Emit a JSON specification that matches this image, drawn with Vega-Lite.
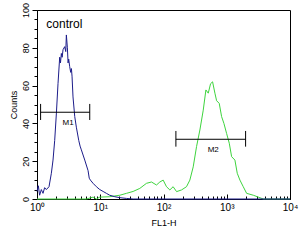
{
  "$schema": "https://vega.github.io/schema/vega-lite/v6.json",
  "width": 253,
  "height": 189,
  "autosize": {"type": "none"},
  "padding": {"left": 37, "top": 10, "right": 16, "bottom": 51},
  "background": "white",
  "config": {
    "font": "Liberation Sans",
    "view": {"stroke": "black", "strokeWidth": 1},
    "axis": {"domainColor": "black", "tickColor": "black", "labelColor": "black", "titleColor": "black", "grid": false, "labelFontSize": 9, "titleFontSize": 9, "titleFontWeight": "normal", "labelFont": "Liberation Sans", "titleFont": "Liberation Sans"}
  },
  "resolve": {"axis": {"y": "independent"}},
  "datasets": {
    "blue": [
      {"v": 1.0, "c": 4}, {"v": 1.05, "c": 7}, {"v": 1.1, "c": 2}, {"v": 1.17, "c": 5}, {"v": 1.245, "c": 3}, {"v": 1.32, "c": 6}, {"v": 1.405, "c": 5}, {"v": 1.549, "c": 6.5},
      {"v": 1.686, "c": 13.6}, {"v": 1.792, "c": 20.6}, {"v": 1.904, "c": 31}, {"v": 2.023, "c": 45},
      {"v": 2.149, "c": 61}, {"v": 2.284, "c": 75}, {"v": 2.35, "c": 72}, {"v": 2.427, "c": 77}, {"v": 2.5, "c": 75}, {"v": 2.579, "c": 79},
      {"v": 2.74, "c": 80.6}, {"v": 2.85, "c": 78}, {"v": 2.912, "c": 86.8}, {"v": 3.022, "c": 80}, {"v": 3.1, "c": 72}, {"v": 3.17, "c": 74},
      {"v": 3.29, "c": 70}, {"v": 3.41, "c": 67}, {"v": 3.5, "c": 69}, {"v": 3.58, "c": 65}, {"v": 3.71, "c": 54},
      {"v": 3.95, "c": 43.6}, {"v": 4.19, "c": 38}, {"v": 4.57, "c": 31}, {"v": 4.8, "c": 28}, {"v": 5.03, "c": 26},
      {"v": 5.69, "c": 20.6}, {"v": 6.42, "c": 15}, {"v": 6.7, "c": 11}, {"v": 6.99, "c": 10}, {"v": 7.7, "c": 8.3},
      {"v": 8.69, "c": 6.5}, {"v": 9.82, "c": 5}, {"v": 11.1, "c": 4}, {"v": 12.5, "c": 3},
      {"v": 14.1, "c": 2}, {"v": 17.0, "c": 1.2}, {"v": 20.4, "c": 0.7}, {"v": 26.0, "c": 0.3},
      {"v": 33.1, "c": 0}, {"v": 10000, "c": 0}
    ],
    "green": [
      {"v": 1.0, "c": 0}, {"v": 6.04, "c": 0}, {"v": 7.7, "c": 1}, {"v": 8.69, "c": 0}, {"v": 9.82, "c": 1},
      {"v": 14.1, "c": 1.2}, {"v": 20.4, "c": 2}, {"v": 26.0, "c": 3}, {"v": 33.1, "c": 4},
      {"v": 42.2, "c": 5.6}, {"v": 53.8, "c": 8.3}, {"v": 64.6, "c": 9}, {"v": 77.5, "c": 7.4},
      {"v": 87.5, "c": 9}, {"v": 98.8, "c": 10}, {"v": 111.5, "c": 6.5}, {"v": 126, "c": 4.8},
      {"v": 142, "c": 6.5}, {"v": 161, "c": 3.9}, {"v": 193, "c": 4.8}, {"v": 231, "c": 6.5},
      {"v": 261, "c": 10}, {"v": 295, "c": 17}, {"v": 333, "c": 27.7}, {"v": 376, "c": 36.5},
      {"v": 425, "c": 47}, {"v": 468, "c": 57.7}, {"v": 510, "c": 56}, {"v": 555, "c": 61},
      {"v": 597, "c": 62}, {"v": 650, "c": 56}, {"v": 691, "c": 52}, {"v": 761, "c": 50.6},
      {"v": 829, "c": 43.6}, {"v": 902, "c": 40}, {"v": 994, "c": 34.7}, {"v": 1096, "c": 29.5},
      {"v": 1194, "c": 22.4}, {"v": 1346, "c": 20.6}, {"v": 1466, "c": 13.6}, {"v": 1616, "c": 10},
      {"v": 1824, "c": 6.5}, {"v": 2061, "c": 3}, {"v": 2630, "c": 2}, {"v": 3155, "c": 1},
      {"v": 3784, "c": 0}, {"v": 10000, "c": 0}
    ],
    "markers": [
      {"name": "M1", "x1": 1.14, "x2": 6.82, "y": 45.9, "ylo": 41.8, "yhi": 50.3, "lx": 3.1, "ly": 40},
      {"name": "M2", "x1": 157, "x2": 1986, "y": 31.6, "ylo": 27.7, "yhi": 36, "lx": 611, "ly": 26}
    ],
    "label": [{"t": "control", "x": 1.405, "y": 90.3}]
  },
  "layer": [
    {
      "data": {"name": "green"},
      "mark": {"type": "line", "color": "#3ed43e", "strokeWidth": 1},
      "encoding": {
        "x": {"field": "v", "type": "quantitative", "scale": {"type": "log", "domain": [1, 10000], "nice": false},
          "axis": {"title": "FL1-H", "titlePadding": 4, "values": [1,2,3,4,5,6,7,8,9,10,20,30,40,50,60,70,80,90,100,200,300,400,500,600,700,800,900,1000,2000,3000,4000,5000,6000,7000,8000,9000,10000],
            "labelExpr": "datum.value == 1 ? '10⁰' : datum.value == 10 ? '10¹' : datum.value == 100 ? '10²' : datum.value == 1000 ? '10³' : datum.value == 10000 ? '10⁴' : ''",
            "tickSize": {"condition": {"test": "datum.value == 1 || datum.value == 10 || datum.value == 100 || datum.value == 1000 || datum.value == 10000", "value": -5}, "value": -3},
            "labelFontSize": 10, "labelPadding": 8, "labelFlush": false, "labelOverlap": false, "labelBound": false}},
        "y": {"field": "c", "type": "quantitative", "scale": {"domain": [0, 100], "nice": false},
          "axis": {"title": "Counts", "orient": "left", "values": [0, 20, 40, 60, 80, 100],
            "tickSize": 5, "labelAngle": -90, "labelAlign": "center", "labelBaseline": "bottom", "labelPadding": 2, "titlePadding": 3, "labelOverlap": false, "labelFlush": false, "labelBound": false}}
      }
    },
    {
      "data": {"name": "blue"},
      "mark": {"type": "line", "color": "#1c1c8a", "strokeWidth": 1},
      "encoding": {
        "x": {"field": "v", "type": "quantitative"},
        "y": {"field": "c", "type": "quantitative",
          "axis": {"title": null, "orient": "left", "values": [5,10,15,25,30,35,45,50,55,65,70,75,85,90,95], "labels": false, "domain": false, "tickSize": 3}}
      }
    },
    {
      "data": {"name": "markers"},
      "mark": {"type": "rule", "color": "black", "strokeWidth": 1},
      "encoding": {
        "x": {"field": "x1", "type": "quantitative"},
        "x2": {"field": "x2"},
        "y": {"field": "y", "type": "quantitative", "axis": null}
      }
    },
    {
      "data": {"name": "markers"},
      "mark": {"type": "rule", "color": "black", "strokeWidth": 1},
      "encoding": {
        "x": {"field": "x1", "type": "quantitative"},
        "y": {"field": "ylo", "type": "quantitative", "axis": null},
        "y2": {"field": "yhi"}
      }
    },
    {
      "data": {"name": "markers"},
      "mark": {"type": "rule", "color": "black", "strokeWidth": 1},
      "encoding": {
        "x": {"field": "x2", "type": "quantitative"},
        "y": {"field": "ylo", "type": "quantitative", "axis": null},
        "y2": {"field": "yhi"}
      }
    },
    {
      "data": {"name": "markers"},
      "mark": {"type": "text", "color": "black", "fontSize": 8, "align": "center", "baseline": "middle", "font": "Liberation Sans"},
      "encoding": {
        "x": {"field": "lx", "type": "quantitative"},
        "y": {"field": "ly", "type": "quantitative", "axis": null},
        "text": {"field": "name"}
      }
    },
    {
      "data": {"name": "label"},
      "mark": {"type": "text", "color": "black", "fontSize": 12, "align": "left", "baseline": "alphabetic", "font": "Liberation Sans"},
      "encoding": {
        "x": {"field": "x", "type": "quantitative"},
        "y": {"field": "y", "type": "quantitative", "axis": null},
        "text": {"field": "t"}
      }
    }
  ]
}
